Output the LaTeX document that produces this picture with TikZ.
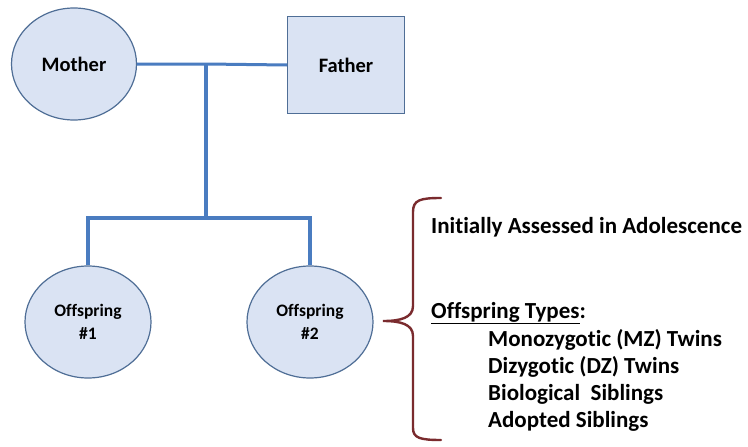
\documentclass[tikz,border=0pt]{standalone}
\usepackage{fontspec}
\setmainfont[Ligatures=CommonOff]{Carlito}
\usetikzlibrary{shapes.geometric}
\definecolor{shapefill}{HTML}{DAE3F3}
\definecolor{shapeedge}{HTML}{4F6E96}
\definecolor{linkblue}{HTML}{4A7CC0}
\definecolor{bracered}{HTML}{7A2B2E}
\begin{document}
\begin{tikzpicture}[x=1pt,y=-1pt,
  person/.style={ellipse,draw=shapeedge,fill=shapefill,line width=1.2pt,
    minimum width=125pt,minimum height=112pt,inner sep=0pt,align=center},
  male/.style={rectangle,draw=shapeedge,fill=shapefill,line width=1.2pt,
    minimum width=117pt,minimum height=97pt,inner sep=0pt},
  parentfont/.style={font=\bfseries\fontsize{20.5}{24}\selectfont},
  kidfont/.style={font=\bfseries\fontsize{17.5}{23}\selectfont},
  link/.style={draw=linkblue,line width=3.6pt,line join=miter},
  note/.style={anchor=west,inner sep=0pt,font=\bfseries\fontsize{23}{27}\selectfont}]
\useasboundingbox (0,0) rectangle (748,447);
\fill[white] (0,0) rectangle (748,447);
% parents
\node[person,parentfont] (mother) at (74,64) {Mother};
\node[male,parentfont] (father) at (346,65) {Father};
% offspring
\node[person,minimum width=126pt,kidfont] (kid1) at (88,322) {Offspring\\\#1};
\node[person,minimum width=126pt,kidfont] (kid2) at (310,322) {Offspring\\\#2};
% connectors
\coordinate (mate) at (206,64);
\coordinate (split) at (206,218);
\coordinate (left) at (88,218);
\coordinate (right) at (310,218);
\draw[link,line width=3pt] (mother.east) -- (mate) -- (father.west);
\draw[link] (mate) -- (split);
\draw[link] (kid1.north) -- (left) -- (right) -- (kid2.north);
% brace
\coordinate (btop) at (441,198);
\coordinate (btip) at (383,321);
\coordinate (bbot) at (441,440);
\draw[bracered,line width=2.4pt,line cap=round]
  (btop) .. controls (420,198) and (413,200) .. (413,212)
  -- (413,306) .. controls (413,318) and (400,321) .. (btip)
  .. controls (400,321) and (413,324) .. (413,336)
  -- (413,428) .. controls (413,438) and (420,440) .. (bbot);
% description
\node[note] (assess) at (431,227) {Initially Assessed in Adolescence};
\node[note] (types) at (431,313) {\underline{Offspring Types}:};
\node[note] (mz) at (488,340) {Monozygotic (MZ) Twins};
\node[note] (dz) at (488,367) {Dizygotic (DZ) Twins};
\node[note] (bio) at (488,394) {Biological\ \ Siblings};
\node[note] (adopt) at (488,421) {Adopted Siblings};
\end{tikzpicture}
\end{document}
